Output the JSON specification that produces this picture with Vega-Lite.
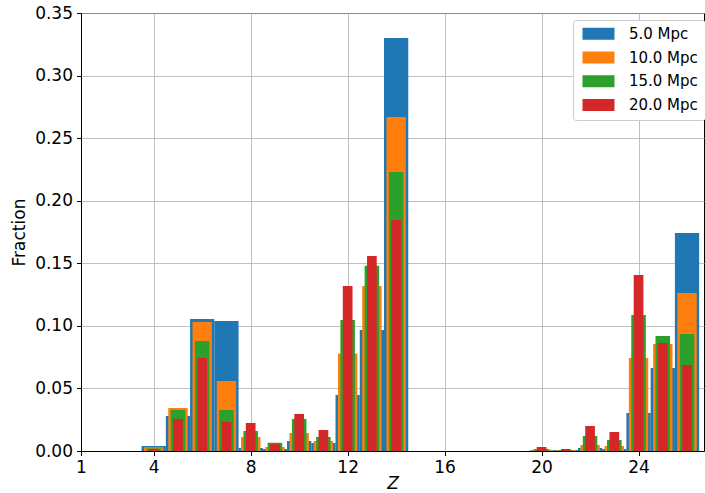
{
  "$schema": "https://vega.github.io/schema/vega-lite/v6.json",
  "autosize": "none",
  "width": 623,
  "height": 438,
  "padding": {"left": 81, "top": 13, "right": 1, "bottom": 42},
  "background": "white",
  "config": {
    "view": {"stroke": "black", "strokeWidth": 1},
    "axis": {
      "labelFont": "DejaVu Sans", "labelFontSize": 17, "labelColor": "black",
      "titleFont": "DejaVu Sans", "titleFontSize": 17, "titleColor": "black", "titleFontWeight": "normal",
      "tickColor": "black", "tickSize": 4.5, "domainColor": "black", "domainWidth": 1,
      "gridColor": "#b0b0b0", "gridWidth": 0.8, "labelPadding": 4, "zindex": 1, "labelFlush": false
    },
    "legend": {
      "orient": "none", "legendX": 492, "legendY": 7,
      "labelFont": "DejaVu Sans", "labelFontSize": 15, "labelColor": "black",
      "symbolType": "M-0.87,-1.2H5.53V1.2H-0.87Z", "symbolSize": 100, "symbolStrokeWidth": 0, "symbolOpacity": 1,
      "fillColor": "white", "strokeColor": "#cccccc", "cornerRadius": 3, "padding": 6.35, "rowPadding": 7.7, "labelOffset": 34.6
    }
  },
  "data": {"values": [
    {"Z": 4, "series": "5.0 Mpc", "frac": 0.004},
    {"Z": 5, "series": "5.0 Mpc", "frac": 0.028},
    {"Z": 6, "series": "5.0 Mpc", "frac": 0.1055},
    {"Z": 7, "series": "5.0 Mpc", "frac": 0.1039},
    {"Z": 8, "series": "5.0 Mpc", "frac": 0.0024},
    {"Z": 9, "series": "5.0 Mpc", "frac": 0.0016},
    {"Z": 10, "series": "5.0 Mpc", "frac": 0.008},
    {"Z": 11, "series": "5.0 Mpc", "frac": 0.0064},
    {"Z": 12, "series": "5.0 Mpc", "frac": 0.0448},
    {"Z": 13, "series": "5.0 Mpc", "frac": 0.0967},
    {"Z": 14, "series": "5.0 Mpc", "frac": 0.33},
    {"Z": 20, "series": "5.0 Mpc", "frac": 0.0005},
    {"Z": 21, "series": "5.0 Mpc", "frac": 0.0008},
    {"Z": 22, "series": "5.0 Mpc", "frac": 0.0024},
    {"Z": 23, "series": "5.0 Mpc", "frac": 0.0016},
    {"Z": 24, "series": "5.0 Mpc", "frac": 0.0304},
    {"Z": 25, "series": "5.0 Mpc", "frac": 0.0663},
    {"Z": 26, "series": "5.0 Mpc", "frac": 0.1742},
    {"Z": 4, "series": "10.0 Mpc", "frac": 0.003},
    {"Z": 5, "series": "10.0 Mpc", "frac": 0.0344},
    {"Z": 6, "series": "10.0 Mpc", "frac": 0.103},
    {"Z": 7, "series": "10.0 Mpc", "frac": 0.056},
    {"Z": 8, "series": "10.0 Mpc", "frac": 0.0112},
    {"Z": 9, "series": "10.0 Mpc", "frac": 0.0032},
    {"Z": 10, "series": "10.0 Mpc", "frac": 0.0144},
    {"Z": 11, "series": "10.0 Mpc", "frac": 0.008},
    {"Z": 12, "series": "10.0 Mpc", "frac": 0.078},
    {"Z": 13, "series": "10.0 Mpc", "frac": 0.1319},
    {"Z": 14, "series": "10.0 Mpc", "frac": 0.2669},
    {"Z": 20, "series": "10.0 Mpc", "frac": 0.0012},
    {"Z": 21, "series": "10.0 Mpc", "frac": 0.0008},
    {"Z": 22, "series": "10.0 Mpc", "frac": 0.0048},
    {"Z": 23, "series": "10.0 Mpc", "frac": 0.004},
    {"Z": 24, "series": "10.0 Mpc", "frac": 0.0743},
    {"Z": 25, "series": "10.0 Mpc", "frac": 0.0855},
    {"Z": 26, "series": "10.0 Mpc", "frac": 0.1263},
    {"Z": 4, "series": "15.0 Mpc", "frac": 0.002},
    {"Z": 5, "series": "15.0 Mpc", "frac": 0.0328},
    {"Z": 6, "series": "15.0 Mpc", "frac": 0.0879},
    {"Z": 7, "series": "15.0 Mpc", "frac": 0.0328},
    {"Z": 8, "series": "15.0 Mpc", "frac": 0.016},
    {"Z": 9, "series": "15.0 Mpc", "frac": 0.0066},
    {"Z": 10, "series": "15.0 Mpc", "frac": 0.0256},
    {"Z": 11, "series": "15.0 Mpc", "frac": 0.0112},
    {"Z": 12, "series": "15.0 Mpc", "frac": 0.1047},
    {"Z": 13, "series": "15.0 Mpc", "frac": 0.148},
    {"Z": 14, "series": "15.0 Mpc", "frac": 0.223},
    {"Z": 20, "series": "15.0 Mpc", "frac": 0.0016},
    {"Z": 21, "series": "15.0 Mpc", "frac": 0.0008},
    {"Z": 22, "series": "15.0 Mpc", "frac": 0.012},
    {"Z": 23, "series": "15.0 Mpc", "frac": 0.0088},
    {"Z": 24, "series": "15.0 Mpc", "frac": 0.1087},
    {"Z": 25, "series": "15.0 Mpc", "frac": 0.0919},
    {"Z": 26, "series": "15.0 Mpc", "frac": 0.0935},
    {"Z": 4, "series": "20.0 Mpc", "frac": 0.0015},
    {"Z": 5, "series": "20.0 Mpc", "frac": 0.0256},
    {"Z": 6, "series": "20.0 Mpc", "frac": 0.0743},
    {"Z": 7, "series": "20.0 Mpc", "frac": 0.0232},
    {"Z": 8, "series": "20.0 Mpc", "frac": 0.0224},
    {"Z": 9, "series": "20.0 Mpc", "frac": 0.0056},
    {"Z": 10, "series": "20.0 Mpc", "frac": 0.0296},
    {"Z": 11, "series": "20.0 Mpc", "frac": 0.0168},
    {"Z": 12, "series": "20.0 Mpc", "frac": 0.1319},
    {"Z": 13, "series": "20.0 Mpc", "frac": 0.1558},
    {"Z": 14, "series": "20.0 Mpc", "frac": 0.1846},
    {"Z": 20, "series": "20.0 Mpc", "frac": 0.0032},
    {"Z": 21, "series": "20.0 Mpc", "frac": 0.0016},
    {"Z": 22, "series": "20.0 Mpc", "frac": 0.02},
    {"Z": 23, "series": "20.0 Mpc", "frac": 0.0152},
    {"Z": 24, "series": "20.0 Mpc", "frac": 0.1406},
    {"Z": 25, "series": "20.0 Mpc", "frac": 0.0863},
    {"Z": 26, "series": "20.0 Mpc", "frac": 0.0687}
  ]},
  "encoding": {
    "x": {"field": "Z", "type": "quantitative",
      "scale": {"domain": [1, 26.7], "nice": false, "zero": false, "padding": 0},
      "axis": {"values": [1, 4, 8, 12, 16, 20, 24], "title": "Z", "titleFontStyle": "italic", "titlePadding": 0}},
    "y": {"field": "frac", "type": "quantitative",
      "scale": {"domain": [0, 0.35], "nice": false, "padding": 0},
      "axis": {"values": [0, 0.05, 0.1, 0.15, 0.2, 0.25, 0.3, 0.35], "format": ".2f", "title": "Fraction", "titlePadding": 6}},
    "color": {"field": "series", "type": "nominal",
      "scale": {"domain": ["5.0 Mpc", "10.0 Mpc", "15.0 Mpc", "20.0 Mpc"], "range": ["#1f77b4", "#ff7f0e", "#2ca02c", "#d62728"]},
      "legend": {"title": null}}
  },
  "layer": [
    {"transform": [{"filter": "datum.series === '5.0 Mpc'"}], "mark": {"type": "bar", "size": 24.25, "opacity": 1}},
    {"transform": [{"filter": "datum.series === '10.0 Mpc'"}], "mark": {"type": "bar", "size": 19.4, "opacity": 1}},
    {"transform": [{"filter": "datum.series === '15.0 Mpc'"}], "mark": {"type": "bar", "size": 14.55, "opacity": 1}},
    {"transform": [{"filter": "datum.series === '20.0 Mpc'"}], "mark": {"type": "bar", "size": 9.7, "opacity": 1}}
  ]
}
